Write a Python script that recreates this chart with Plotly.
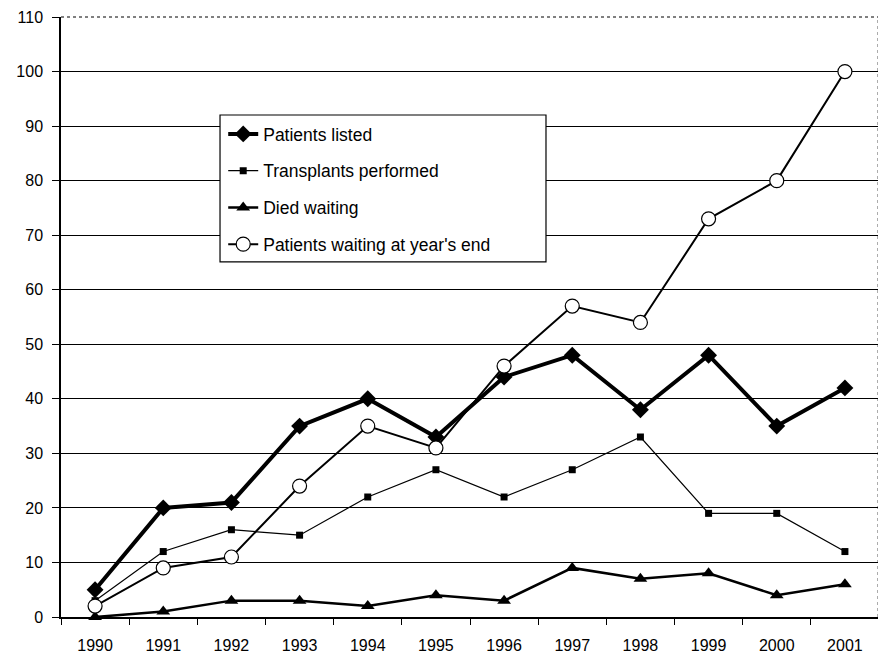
import plotly.graph_objects as go

years = ["1990", "1991", "1992", "1993", "1994", "1995", "1996", "1997", "1998", "1999", "2000", "2001"]
patients_listed = [5, 20, 21, 35, 40, 33, 44, 48, 38, 48, 35, 42]
transplants = [3, 12, 16, 15, 22, 27, 22, 27, 33, 19, 19, 12]
died_waiting = [0, 1, 3, 3, 2, 4, 3, 9, 7, 8, 4, 6]
waiting_end = [2, 9, 11, 24, 35, 31, 46, 57, 54, 73, 80, 100]
y_ticks = list(range(0, 111, 10))

fig = go.Figure()
fig.add_trace(go.Scatter(x=years, y=patients_listed, name="Patients listed", mode="lines+markers",
                         line=dict(color="black", width=4), marker=dict(symbol="diamond", size=13, color="black"),
                         legendgroup="a", cliponaxis=False))
fig.add_trace(go.Scatter(x=years, y=transplants, name="Transplants performed", mode="lines+markers",
                         line=dict(color="black", width=1.2), marker=dict(symbol="square", size=7, color="black"),
                         legendgroup="b", cliponaxis=False))
fig.add_trace(go.Scatter(x=years, y=died_waiting, name="Died waiting", mode="lines+markers",
                         line=dict(color="black", width=2.5), marker=dict(symbol="triangle-up", size=12, color="black"),
                         legendgroup="c", cliponaxis=False))
fig.add_trace(go.Scatter(x=years, y=waiting_end, name="Patients waiting at year's end", mode="lines+markers",
                         line=dict(color="black", width=2), marker=dict(symbol="circle", size=14, color="white",
                                                                      line=dict(color="black", width=1.2)),
                         legendgroup="d", cliponaxis=False))

fig.update_layout(
    width=878, height=647,
    margin=dict(l=53, r=7, t=9, b=38, autoexpand=False),
    paper_bgcolor="white", plot_bgcolor="white",
    font=dict(family="Liberation Sans, Arial, sans-serif", size=16, color="black"),
    showlegend=True,
    legend=dict(x=0.1983, y=0.835, xanchor="left", yanchor="top", borderwidth=0,
                bgcolor="rgba(0,0,0,0)", tracegroupgap=11, traceorder="grouped", itemwidth=30,
                font=dict(size=17.5)),
    xaxis=dict(type="category", range=[-0.5, len(years) - 0.5], tickson="boundaries", ticks="outside",
               ticklen=6, tickcolor="black",
               showline=True, linecolor="black", linewidth=1.5, showgrid=False, zeroline=False,
               tickfont=dict(size=16), automargin=False, ticklabelstandoff=13),
    yaxis=dict(range=[0, 110], tickvals=y_ticks, ticks="outside", ticklen=7, tickcolor="black",
               showline=True, linecolor="black", linewidth=1.5, showgrid=True, gridcolor="black", gridwidth=1,
               zeroline=False, tickfont=dict(size=16), automargin=False, ticklabelstandoff=6),
)
fig.add_shape(type="line", xref="paper", yref="paper", x0=0, x1=1, y0=1, y1=1,
              line=dict(color="black", width=1, dash="dot"))
fig.add_shape(type="line", xref="paper", yref="paper", x0=0.999, x1=0.999, y0=0, y1=1,
              line=dict(color="black", width=1, dash="dot"))
fig.add_shape(type="rect", xref="paper", yref="paper", x0=0.1944, x1=0.5929, y0=0.592, y1=0.8367,
              line=dict(color="black", width=1.2), fillcolor="white", layer="above")
fig.write_html("out.html", post_script="document.body.style.overflow='hidden';")
